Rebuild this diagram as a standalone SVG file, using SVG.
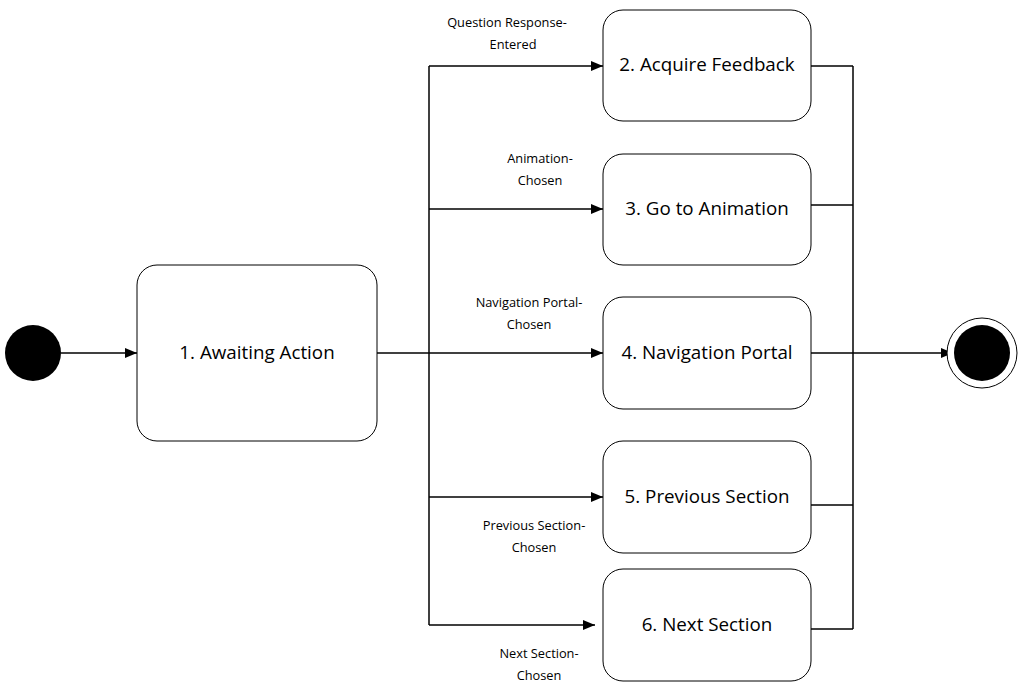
<svg xmlns="http://www.w3.org/2000/svg" width="1034" height="692" viewBox="0 0 1034 692">
<defs>
<marker id="arr" markerWidth="12" markerHeight="10" refX="12" refY="5" orient="auto" markerUnits="userSpaceOnUse">
<path d="M0,0 L12,5 L0,10 Z" fill="#000"/>
</marker>
<style>
.box{fill:#fff;stroke:#000;stroke-width:1}
.bt{font-family:"Open Sans","Noto Sans",sans-serif;font-size:18.8px;fill:#000;text-anchor:middle;dominant-baseline:central}
.lt{font-family:"Open Sans","Noto Sans",sans-serif;font-size:12.8px;fill:#000;text-anchor:middle;dominant-baseline:central}
.c{fill:none;stroke:#000;stroke-width:1.5}
</style>
</defs>
<rect width="1034" height="692" fill="#fff"/>
<g id="connectors">
<line class="c" x1="61" y1="353" x2="137" y2="353" marker-end="url(#arr)"/>
<line class="c" x1="377" y1="353" x2="429" y2="353"/>
<line class="c" x1="429" y1="66" x2="429" y2="625"/>
<line class="c" x1="429" y1="66" x2="603" y2="66" marker-end="url(#arr)"/>
<line class="c" x1="429" y1="209" x2="603" y2="209" marker-end="url(#arr)"/>
<line class="c" x1="429" y1="353" x2="603" y2="353" marker-end="url(#arr)"/>
<line class="c" x1="429" y1="497" x2="603" y2="497" marker-end="url(#arr)"/>
<line class="c" x1="429" y1="625" x2="595" y2="625" marker-end="url(#arr)"/>
<line class="c" x1="811" y1="66" x2="853" y2="66"/>
<line class="c" x1="811" y1="205" x2="853" y2="205"/>
<line class="c" x1="811" y1="353" x2="853" y2="353"/>
<line class="c" x1="811" y1="505" x2="853" y2="505"/>
<line class="c" x1="811" y1="629" x2="853" y2="629"/>
<line class="c" x1="853" y1="66" x2="853" y2="629"/>
<line class="c" x1="853" y1="353" x2="953" y2="353" marker-end="url(#arr)"/>
<text class="lt" x="507" y="22">Question Response-</text>
<text class="lt" x="513" y="44">Entered</text>
<text class="lt" x="540" y="158">Animation-</text>
<text class="lt" x="540" y="180">Chosen</text>
<text class="lt" x="529" y="302">Navigation Portal-</text>
<text class="lt" x="529" y="324">Chosen</text>
<text class="lt" x="534" y="525">Previous Section-</text>
<text class="lt" x="534" y="547">Chosen</text>
<text class="lt" x="539" y="653">Next Section-</text>
<text class="lt" x="539" y="675">Chosen</text>
</g>
<g id="start">
<circle cx="33" cy="353" r="28" fill="#000"/>
</g>
<g id="n1">
<rect class="box" x="137" y="265" width="240" height="176" rx="20"/>
<text class="bt" x="257" y="352">1. Awaiting Action</text>
</g>
<g id="n2">
<rect class="box" x="603" y="10" width="208" height="111" rx="20"/>
<text class="bt" x="707" y="64">2. Acquire Feedback</text>
</g>
<g id="n3">
<rect class="box" x="603" y="154" width="208" height="111" rx="20"/>
<text class="bt" x="707" y="208">3. Go to Animation</text>
</g>
<g id="n4">
<rect class="box" x="603" y="297" width="208" height="112" rx="20"/>
<text class="bt" x="707" y="352">4. Navigation Portal</text>
</g>
<g id="n5">
<rect class="box" x="603" y="441" width="208" height="112" rx="20"/>
<text class="bt" x="707" y="496">5. Previous Section</text>
</g>
<g id="n6">
<rect class="box" x="603" y="569" width="208" height="112" rx="20"/>
<text class="bt" x="707" y="624">6. Next Section</text>
</g>
<g id="end">
<circle cx="982" cy="353" r="35" fill="#fff" stroke="#000" stroke-width="1"/>
<circle cx="982" cy="353" r="28" fill="#000"/>
</g>
</svg>
